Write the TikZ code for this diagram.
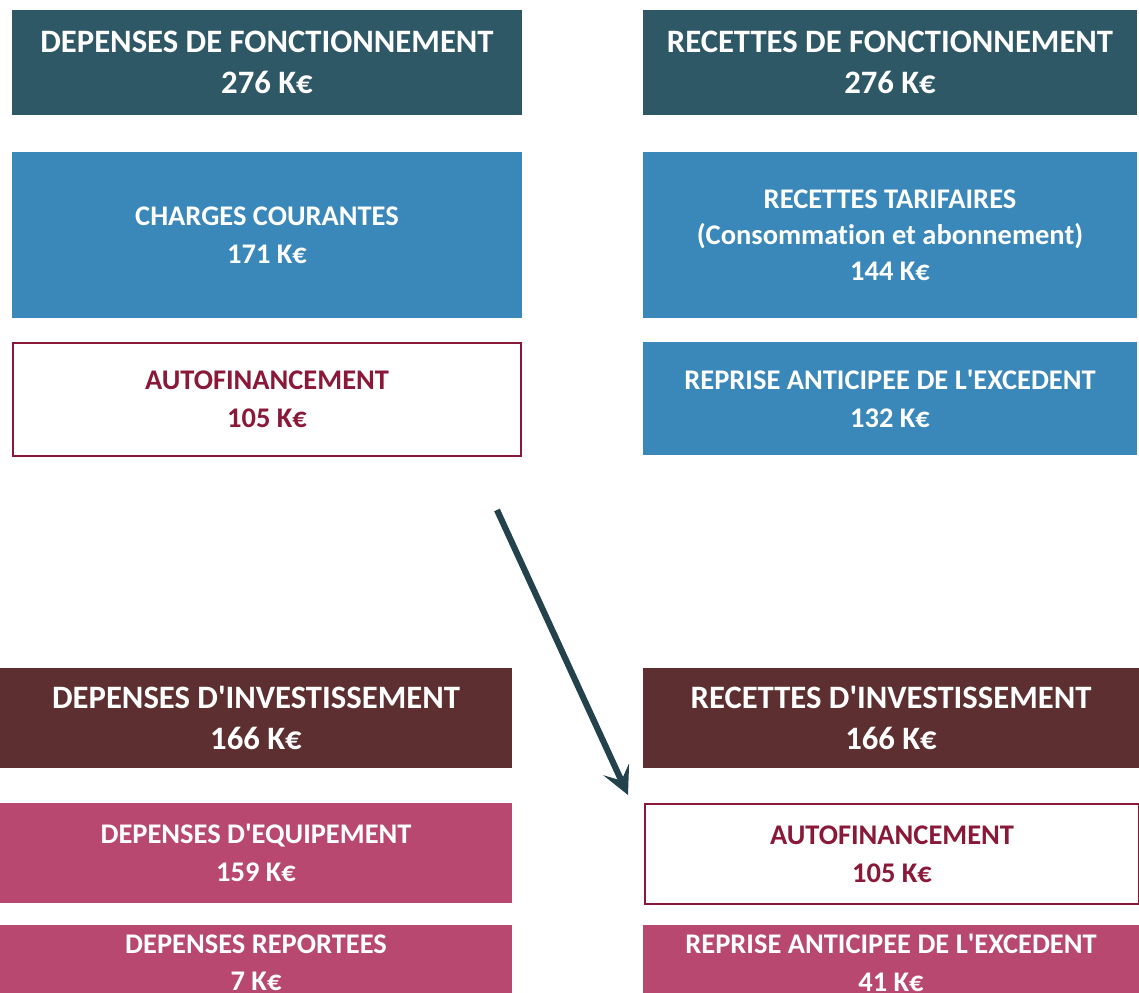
\documentclass[tikz,border=0pt]{standalone}
\usepackage{fontspec}
\setmainfont{Carlito}[Ligatures=NoCommon]
\usetikzlibrary{arrows.meta}

\definecolor{slate}{HTML}{2F5866}
\definecolor{sky}{HTML}{3A87B9}
\definecolor{brun}{HTML}{5E2F30}
\definecolor{rose}{HTML}{B8486F}
\definecolor{bordeaux}{HTML}{8A1838}
\newcommand{\apos}{\textquotesingle}

\begin{document}
\begin{tikzpicture}[x=0.02cm,y=-0.02cm,
    box/.style={minimum width=#1*0.02cm,inner sep=0pt,align=center,font=\bfseries\fontsize{16.2}{21.5}\selectfont},
    head/.style={box=#1,font=\bfseries\fontsize{18.6}{23}\selectfont},
    fonc/.style={fill=slate,text=white},
    tarif/.style={fill=sky,text=white},
    inv/.style={fill=brun,text=white},
    equip/.style={fill=rose,text=white},
    auto/.style={fill=white,draw=bordeaux,line width=1.2pt,text=bordeaux}]
  % \draw (0, 0) grid (1139, 993);
  \useasboundingbox (0,0) rectangle (1139,993);
  \clip (0,0) rectangle (1139,993);

  % fonctionnement
  \node[head=510,fonc,minimum height=105*0.02cm] (df) at (267,62.5) {DEPENSES DE FONCTIONNEMENT\\276 K€};
  \node[head=494,fonc,minimum height=105*0.02cm] (rf) at (890,62.5) {RECETTES DE FONCTIONNEMENT\\276 K€};
  \node[box=510,tarif,minimum height=166*0.02cm] (cc) at (267,235) {CHARGES COURANTES\\171 K€};
  \node[box=494,tarif,minimum height=166*0.02cm,font=\bfseries\fontsize{16.2}{20.5}\selectfont] (rt) at (890,235) {RECETTES TARIFAIRES\\(Consommation et abonnement)\\144 K€};
  \node[box=508,auto,minimum height=113*0.02cm] (afl) at (267,399.5) {AUTOFINANCEMENT\\105 K€};
  \node[box=494,tarif,minimum height=113*0.02cm] (rae) at (890,398.5) {REPRISE ANTICIPEE DE L\apos EXCEDENT\\132 K€};

  % investissement
  \node[head=512,inv,minimum height=100*0.02cm] (di) at (256,718) {DEPENSES D\apos INVESTISSEMENT\\166 K€};
  \node[head=496,inv,minimum height=100*0.02cm] (ri) at (891,718) {RECETTES D\apos INVESTISSEMENT\\166 K€};
  \node[box=512,equip,minimum height=100*0.02cm] (de) at (256,853) {DEPENSES D\apos EQUIPEMENT\\159 K€};
  \node[box=494,auto,minimum height=100*0.02cm] (afr) at (892,854) {AUTOFINANCEMENT\\105 K€};
  \node[box=512,equip,anchor=north,inner ysep=9*0.02cm] (dr) at (256,925) {DEPENSES REPORTEES\\7 K€};
  \node[box=496,equip,anchor=north,inner ysep=9*0.02cm] (rae2) at (891,925) {REPRISE ANTICIPEE DE L\apos EXCEDENT\\41 K€};

  \coordinate (a0) at (497,510);
  \coordinate (a1) at (628,795);
  \draw[slate!75!black,line width=3.5pt,-{Stealth[length=16pt,width=16pt,inset=7pt]}] (a0) -- (a1);
\end{tikzpicture}
\end{document}
